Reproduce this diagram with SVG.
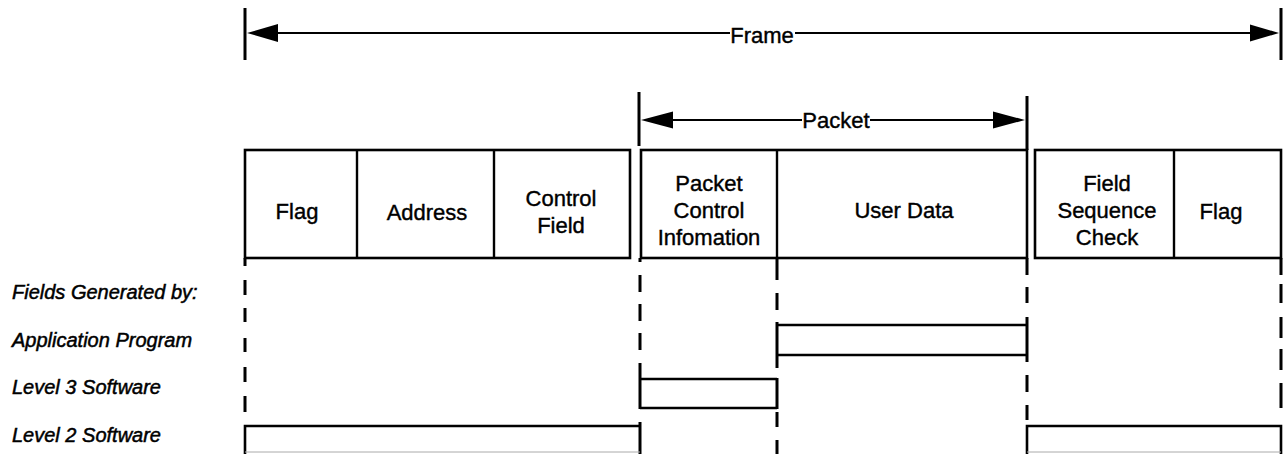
<svg xmlns="http://www.w3.org/2000/svg" width="1286" height="454" viewBox="0 0 1286 454">
<style>
.bg{fill:#fff}
.box{fill:none;stroke:#000;stroke-width:2.6}
.div{stroke:#000;stroke-width:2.4}
.tick{stroke:#000;stroke-width:3;fill:none}
.shaft{stroke:#000;stroke-width:2;fill:none}
.head{fill:#000}
.dash{stroke:#000;stroke-width:3;fill:none}
.bar{fill:none;stroke:#000;stroke-width:2.6}
.t{font-family:"Liberation Sans",Arial,Helvetica,sans-serif;font-size:22px;fill:#000;stroke:#000;stroke-width:0.4;text-anchor:middle}
.lbl{font-family:"Liberation Sans",Arial,Helvetica,sans-serif;font-size:20px;font-style:italic;fill:#000;stroke:#000;stroke-width:0.5}
</style>
<rect class="bg" x="0" y="0" width="1286" height="454"/>

<g id="connectors">
  <!-- Frame dimension -->
  <line class="tick" x1="245" y1="8" x2="245" y2="60"/>
  <line class="tick" x1="1281" y1="8" x2="1281" y2="60"/>
  <path class="shaft" d="M277 33H730M795 33H1250"/>
  <polygon class="head" points="247,33 278,24 278,42"/>
  <polygon class="head" points="1279,33 1250,24.5 1250,41.5"/>
  <!-- Packet dimension -->
  <line class="tick" x1="639" y1="92" x2="639" y2="146"/>
  <line class="tick" x1="1027" y1="96" x2="1027" y2="150"/>
  <path class="shaft" d="M672 120H802M870 120H993"/>
  <polygon class="head" points="641,120 673,111.5 673,128.5"/>
  <polygon class="head" points="1025,120 993,111.5 993,128.5"/>
  <!-- dashed guide lines below boxes -->
  <path class="dash" d="M245 258V266M245 280V295M245 308V322M245 338V352M245 367V382M245 396V412"/>
  <path class="dash" d="M640 258V262M640 275V292M640 304V321M640 333V350"/>
  <path class="dash" d="M777 258V280M777 293V310"/>
  <path class="dash" d="M777 412V427M777 440V454"/>
  <path class="dash" d="M1027 258V275M1027 287V303M1027 375V392M1027 405V420"/>
  <path class="dash" d="M1281 258V275M1281 284V303M1281 317V338M1281 349V370M1281 383V408"/>
</g>

<g id="frame-label">
  <text class="t" x="762" y="43">Frame</text>
</g>
<g id="packet-label">
  <text class="t" x="836" y="128">Packet</text>
</g>

<g id="header-fields">
  <rect class="box" x="245" y="150" width="385" height="108"/>
  <line class="div" x1="357" y1="150" x2="357" y2="258"/>
  <line class="div" x1="494" y1="150" x2="494" y2="258"/>
  <text class="t" x="297" y="219">Flag</text>
  <text class="t" x="427" y="220">Address</text>
  <text class="t" x="561" y="206">Control</text>
  <text class="t" x="561" y="233">Field</text>
</g>

<g id="packet-fields">
  <rect class="box" x="641" y="150" width="386" height="108"/>
  <line class="div" x1="777" y1="150" x2="777" y2="258"/>
  <text class="t" x="709" y="191">Packet</text>
  <text class="t" x="709" y="218">Control</text>
  <text class="t" x="709" y="245">Infomation</text>
  <text class="t" x="904" y="218">User Data</text>
</g>

<g id="trailer-fields">
  <rect class="box" x="1035" y="150" width="246" height="108"/>
  <line class="div" x1="1174" y1="150" x2="1174" y2="258"/>
  <text class="t" x="1107" y="191">Field</text>
  <text class="t" x="1107" y="218">Sequence</text>
  <text class="t" x="1107" y="245">Check</text>
  <text class="t" x="1221" y="219">Flag</text>
</g>

<g id="labels">
  <text class="lbl" x="12" y="299">Fields Generated by:</text>
  <text class="lbl" x="12" y="347">Application Program</text>
  <text class="lbl" x="12" y="394">Level 3 Software</text>
  <text class="lbl" x="12" y="442">Level 2 Software</text>
</g>

<g id="app-program-bar">
  <path class="bar" d="M777 325H1027M777 355H1027"/>
  <line class="tick" x1="777" y1="322" x2="777" y2="368"/>
  <line class="tick" x1="1027" y1="317" x2="1027" y2="362"/>
</g>

<g id="level3-bar">
  <path class="bar" d="M640 379H777M640 408H777"/>
  <line class="tick" x1="640" y1="363" x2="640" y2="409"/>
  <line class="tick" x1="777" y1="378" x2="777" y2="409"/>
</g>

<g id="level2-bar-left">
  <path class="bar" d="M245 454V426H640"/>
  <line class="tick" x1="640" y1="422" x2="640" y2="454"/>
  <line x1="245" y1="452" x2="640" y2="452" stroke="#aaa" stroke-width="1"/>
</g>

<g id="level2-bar-right">
  <path class="bar" d="M1027 454V426H1281V454"/>
  <line x1="1027" y1="452" x2="1281" y2="452" stroke="#aaa" stroke-width="1"/>
</g>
</svg>
